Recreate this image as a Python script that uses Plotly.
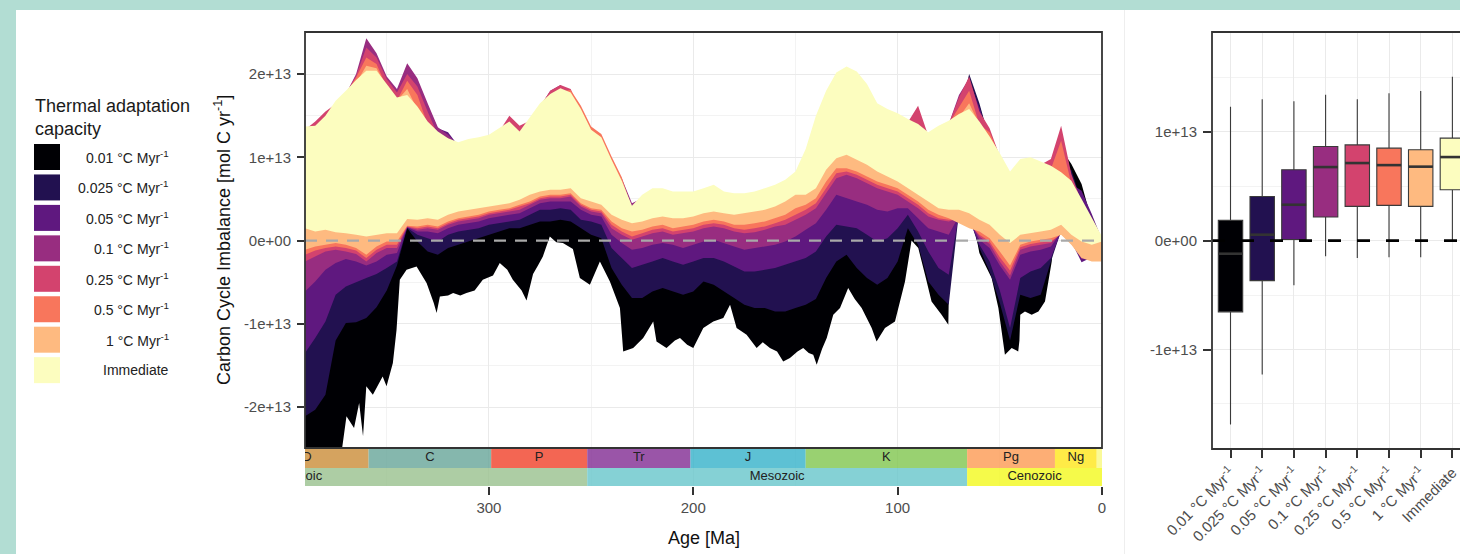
import plotly.graph_objects as go

W, H = 1460, 554
FONT = "Liberation Sans, Arial, Helvetica, sans-serif"


def fx(px):
    return px / W


def fy(py):
    return 1 - py / H


# ---------------- data (values in units of 1e13 mol C / yr) ----------------
ages = [390, 385, 380, 375, 370, 365, 360, 355, 350, 345,
        340, 335, 330, 325, 320, 315, 310, 305, 300, 295,
        290, 285, 280, 275, 270, 265, 260, 255, 250, 245,
        240, 235, 230, 225, 220, 215, 210, 205, 200, 195,
        190, 185, 180, 175, 170, 165, 160, 155, 150, 145,
        140, 135, 130, 125, 120, 115, 110, 105, 100, 95,
        90, 85, 80, 75, 70, 65, 60, 55, 50, 45,
        40, 35, 30, 25, 20, 15, 10, 5, 0]

imm_hi = [1.37, 1.38, 1.50, 1.68, 1.80, 1.93, 2.04, 2.04, 1.88, 1.72,
          1.75, 1.61, 1.43, 1.31, 1.23, 1.18, 1.22, 1.24, 1.27, 1.35,
          1.43, 1.31, 1.48, 1.65, 1.76, 1.83, 1.78, 1.58, 1.33, 1.24,
          0.97, 0.72, 0.42, 0.55, 0.63, 0.63, 0.59, 0.59, 0.59, 0.63,
          0.67, 0.59, 0.57, 0.57, 0.59, 0.63, 0.67, 0.73, 0.83, 1.10,
          1.50, 1.80, 2.02, 2.09, 2.03, 1.88, 1.65, 1.58, 1.53, 1.46,
          1.40, 1.30, 1.38, 1.44, 1.52, 1.58, 1.43, 1.25, 1.05, 0.83,
          0.98, 1.00, 0.95, 0.90, 0.82, 0.72, 0.50, 0.28, 0.05]
imm_lo = [0.15, 0.11, 0.13, 0.10, 0.09, 0.07, 0.05, 0.07, 0.09, 0.09,
          0.26, 0.25, 0.27, 0.25, 0.31, 0.35, 0.37, 0.39, 0.41, 0.43,
          0.45, 0.49, 0.55, 0.59, 0.61, 0.61, 0.63, 0.51, 0.47, 0.43,
          0.31, 0.25, 0.21, 0.23, 0.27, 0.29, 0.27, 0.27, 0.29, 0.33,
          0.35, 0.33, 0.31, 0.33, 0.35, 0.37, 0.41, 0.47, 0.55, 0.55,
          0.63, 0.85, 0.99, 1.03, 0.97, 0.91, 0.83, 0.77, 0.71, 0.63,
          0.55, 0.47, 0.39, 0.37, 0.37, 0.33, 0.25, 0.19, 0.07, -0.03,
          0.07, 0.09, 0.11, 0.13, 0.19, 0.07, -0.01, -0.05, -0.01]

c1_hi = [1.33, 1.34, 1.46, 1.64, 1.76, 1.89, 2.10, 2.07, 1.84, 1.68,
         1.82, 1.57, 1.39, 1.27, 1.19, 1.14, 1.18, 1.20, 1.23, 1.31,
         1.39, 1.27, 1.44, 1.61, 1.72, 1.79, 1.74, 1.54, 1.29, 1.20,
         0.93, 0.68, 0.38, 0.51, 0.59, 0.59, 0.55, 0.55, 0.55, 0.59,
         0.63, 0.55, 0.53, 0.53, 0.55, 0.59, 0.63, 0.69, 0.79, 1.06,
         1.46, 1.76, 1.98, 2.05, 1.99, 1.84, 1.61, 1.54, 1.49, 1.42,
         1.36, 1.26, 1.34, 1.40, 1.48, 1.65, 1.39, 1.21, 1.01, 0.79,
         0.94, 0.96, 0.91, 0.86, 0.78, 0.68, 0.46, 0.24, 0.01]
c1_lo = [-0.11, -0.07, -0.05, -0.03, -0.05, -0.09, -0.17, -0.07, -0.01, -0.01,
         0.18, 0.17, 0.19, 0.17, 0.23, 0.27, 0.29, 0.31, 0.35, 0.37,
         0.39, 0.43, 0.47, 0.53, 0.55, 0.55, 0.57, 0.45, 0.39, 0.37,
         0.23, 0.15, 0.11, 0.13, 0.17, 0.19, 0.15, 0.17, 0.19, 0.23,
         0.25, 0.23, 0.19, 0.19, 0.21, 0.23, 0.27, 0.31, 0.39, 0.43,
         0.51, 0.71, 0.87, 0.87, 0.83, 0.77, 0.71, 0.67, 0.63, 0.55,
         0.47, 0.37, 0.31, 0.27, 0.21, 0.15, 0.11, 0.03, -0.13, -0.30,
         -0.05, -0.01, 0.01, 0.03, 0.07, -0.05, -0.21, -0.25, -0.25]

c05_hi = [1.33, 1.34, 1.46, 1.64, 1.76, 1.96, 2.20, 2.12, 1.84, 1.68,
          1.92, 1.75, 1.39, 1.27, 1.19, 1.14, 1.18, 1.20, 1.23, 1.31,
          1.39, 1.27, 1.44, 1.61, 1.72, 1.79, 1.81, 1.62, 1.37, 1.28,
          1.01, 0.76, 0.38, 0.51, 0.59, 0.59, 0.55, 0.55, 0.55, 0.59,
          0.63, 0.55, 0.53, 0.53, 0.55, 0.59, 0.63, 0.69, 0.79, 1.06,
          1.46, 1.76, 1.98, 2.05, 1.99, 1.84, 1.61, 1.54, 1.49, 1.42,
          1.36, 1.26, 1.34, 1.40, 1.60, 1.80, 1.39, 1.30, 1.01, 0.79,
          0.94, 0.96, 0.91, 0.86, 1.20, 0.68, 0.46, 0.24, 0.01]
c05_lo = [-0.17, -0.12, -0.09, -0.07, -0.09, -0.12, -0.21, -0.11, -0.05, -0.05,
          0.17, 0.15, 0.17, 0.15, 0.21, 0.25, 0.27, 0.29, 0.33, 0.35,
          0.37, 0.41, 0.45, 0.51, 0.53, 0.53, 0.55, 0.43, 0.37, 0.35,
          0.19, 0.11, 0.05, 0.09, 0.13, 0.15, 0.11, 0.13, 0.15, 0.19,
          0.21, 0.19, 0.15, 0.13, 0.15, 0.17, 0.21, 0.25, 0.31, 0.37,
          0.45, 0.63, 0.81, 0.83, 0.79, 0.73, 0.67, 0.63, 0.59, 0.51,
          0.43, 0.33, 0.27, 0.25, 0.25, 0.20, 0.07, -0.01, -0.20, -0.36,
          -0.08, -0.04, -0.02, -0.01, 0.08, -0.04, -0.20, -0.22, -0.22]

c025_hi = [1.33, 1.43, 1.55, 1.64, 1.76, 1.98, 2.32, 2.20, 1.94, 1.78,
           2.00, 1.85, 1.55, 1.27, 1.19, 1.14, 1.18, 1.20, 1.23, 1.31,
           1.50, 1.38, 1.44, 1.61, 1.80, 1.87, 1.82, 1.54, 1.29, 1.20,
           0.93, 0.68, 0.38, 0.51, 0.59, 0.59, 0.55, 0.55, 0.55, 0.59,
           0.63, 0.55, 0.53, 0.53, 0.55, 0.59, 0.63, 0.69, 0.79, 1.06,
           1.46, 1.76, 1.98, 2.05, 1.99, 1.84, 1.61, 1.54, 1.49, 1.42,
           1.62, 1.26, 1.34, 1.40, 1.72, 1.97, 1.55, 1.35, 1.01, 0.79,
           0.94, 0.96, 0.91, 0.98, 1.38, 0.80, 0.46, 0.24, 0.01]
c025_lo = [-0.25, -0.19, -0.13, -0.11, -0.13, -0.16, -0.25, -0.15, -0.09, -0.09,
           0.165, 0.13, 0.15, 0.13, 0.19, 0.23, 0.25, 0.27, 0.31, 0.33,
           0.35, 0.37, 0.43, 0.49, 0.51, 0.51, 0.53, 0.41, 0.35, 0.33,
           0.15, 0.07, 0.01, 0.05, 0.09, 0.11, 0.07, 0.09, 0.11, 0.15,
           0.17, 0.15, 0.11, 0.09, 0.10, 0.13, 0.17, 0.19, 0.25, 0.31,
           0.39, 0.57, 0.75, 0.79, 0.75, 0.69, 0.63, 0.59, 0.55, 0.47,
           0.39, 0.29, 0.25, 0.23, 0.27, 0.22, 0.05, -0.04, -0.25, -0.42,
           -0.11, -0.07, -0.05, -0.03, 0.09, -0.03, -0.20, -0.21, -0.21]

c01_hi = [1.33, 1.34, 1.46, 1.64, 1.76, 2.00, 2.43, 2.25, 1.97, 1.82,
          2.13, 1.95, 1.65, 1.36, 1.27, 1.14, 1.18, 1.20, 1.23, 1.31,
          1.39, 1.27, 1.44, 1.61, 1.80, 1.87, 1.74, 1.54, 1.29, 1.20,
          0.93, 0.75, 0.45, 0.51, 0.59, 0.59, 0.55, 0.55, 0.55, 0.59,
          0.63, 0.55, 0.53, 0.53, 0.55, 0.59, 0.63, 0.69, 0.79, 1.06,
          1.46, 1.76, 1.98, 2.05, 1.99, 1.84, 1.61, 1.54, 1.49, 1.42,
          1.50, 1.26, 1.34, 1.40, 1.75, 1.95, 1.55, 1.21, 1.01, 0.79,
          0.94, 0.96, 0.91, 0.86, 1.30, 0.68, 0.46, 0.24, 0.01]
c01_lo = [-0.61, -0.49, -0.35, -0.27, -0.22, -0.25, -0.30, -0.25, -0.17, -0.15,
          0.16, 0.11, 0.11, 0.09, 0.15, 0.19, 0.21, 0.23, 0.27, 0.29,
          0.31, 0.33, 0.39, 0.45, 0.47, 0.47, 0.47, 0.37, 0.31, 0.29,
          0.07, -0.03, -0.11, -0.09, -0.05, -0.03, -0.05, -0.09, -0.05, -0.01,
          0.01, -0.03, -0.07, -0.11, -0.09, -0.07, -0.05, -0.01, 0.05, 0.13,
          0.21, 0.37, 0.55, 0.51, 0.47, 0.43, 0.37, 0.35, 0.39, 0.39,
          0.27, 0.15, 0.11, 0.07, 0.30, 0.24, 0.01, -0.09, -0.30, -0.47,
          -0.17, -0.13, -0.11, -0.07, 0.10, -0.02, -0.22, -0.20, -0.20]

c005_hi = [1.33, 1.34, 1.46, 1.64, 1.76, 1.89, 2.00, 2.00, 1.84, 1.68,
           2.05, 1.92, 1.62, 1.35, 1.30, 1.14, 1.18, 1.20, 1.23, 1.31,
           1.39, 1.27, 1.44, 1.61, 1.72, 1.79, 1.74, 1.54, 1.29, 1.20,
           0.93, 0.68, 0.38, 0.51, 0.59, 0.59, 0.55, 0.55, 0.55, 0.59,
           0.63, 0.55, 0.53, 0.53, 0.55, 0.59, 0.63, 0.69, 0.79, 1.06,
           1.46, 1.76, 1.98, 2.05, 1.99, 1.84, 1.61, 1.54, 1.49, 1.42,
           1.36, 1.26, 1.34, 1.40, 1.48, 1.92, 1.60, 1.21, 1.01, 0.79,
           0.94, 0.96, 0.91, 0.86, 0.78, 0.68, 0.60, 0.32, 0.01]
c005_lo = [-1.35, -1.17, -0.97, -0.65, -0.55, -0.50, -0.45, -0.40, -0.33, -0.25,
           0.155, 0.07, 0.03, -0.01, 0.07, 0.11, 0.13, 0.15, 0.19, 0.21,
           0.23, 0.25, 0.31, 0.37, 0.37, 0.39, 0.37, 0.25, 0.23, 0.19,
           -0.09, -0.21, -0.33, -0.29, -0.25, -0.21, -0.25, -0.29, -0.25, -0.21,
           -0.21, -0.25, -0.31, -0.37, -0.37, -0.35, -0.33, -0.29, -0.25, -0.21,
           -0.13, 0.05, 0.19, 0.17, 0.15, 0.07, -0.01, 0.03, 0.15, 0.31,
           0.11, -0.13, -0.33, -0.41, 0.32, 0.26, -0.05, -0.25, -0.60, -1.05,
           -0.45, -0.37, -0.33, -0.21, 0.11, -0.01, -0.26, -0.20, -0.20]

c0025_hi = [1.33, 1.34, 1.46, 1.64, 1.76, 1.89, 2.00, 2.00, 1.84, 1.68,
            1.71, 1.57, 1.39, 1.27, 1.19, 1.14, 1.18, 1.20, 1.23, 1.31,
            1.39, 1.27, 1.44, 1.61, 1.72, 1.79, 1.74, 1.54, 1.29, 1.20,
            0.93, 0.68, 0.38, 0.51, 0.59, 0.59, 0.55, 0.55, 0.55, 0.59,
            0.63, 0.55, 0.53, 0.53, 0.55, 0.59, 0.63, 0.69, 0.79, 1.06,
            1.46, 1.76, 1.98, 2.05, 1.99, 1.84, 1.61, 1.54, 1.49, 1.42,
            1.36, 1.26, 1.34, 1.40, 1.48, 2.00, 1.65, 1.21, 1.01, 0.79,
            0.94, 0.96, 0.91, 0.86, 0.78, 0.85, 0.46, 0.24, 0.01]
c0025_lo = [-2.11, -2.03, -1.85, -1.20, -0.99, -0.98, -0.93, -0.80, -0.60, -0.30,
            0.15, -0.01, -0.13, -0.17, -0.09, -0.05, -0.01, 0.03, 0.07, 0.11,
            0.15, 0.15, 0.19, 0.23, 0.23, 0.25, 0.23, 0.15, 0.07, 0.03,
            -0.33, -0.53, -0.69, -0.69, -0.61, -0.57, -0.61, -0.65, -0.61, -0.49,
            -0.53, -0.61, -0.69, -0.77, -0.81, -0.81, -0.85, -0.85, -0.81, -0.77,
            -0.70, -0.45, -0.25, -0.17, -0.33, -0.45, -0.53, -0.45, -0.25, 0.15,
            -0.05, -0.49, -0.65, -0.77, 0.34, 0.28, -0.09, -0.37, -0.75, -1.20,
            -0.65, -0.69, -0.65, -0.25, 0.12, 0.00, -0.15, -0.19, -0.19]

c001_hi = [1.33, 1.34, 1.46, 1.64, 1.76, 1.89, 2.00, 2.00, 1.84, 1.68,
           1.71, 1.57, 1.39, 1.27, 1.19, 1.14, 1.18, 1.20, 1.23, 1.31,
           1.39, 1.27, 1.44, 1.61, 1.72, 1.79, 1.74, 1.54, 1.29, 1.20,
           0.93, 0.68, 0.38, 0.51, 0.59, 0.59, 0.55, 0.55, 0.55, 0.59,
           0.63, 0.55, 0.53, 0.53, 0.55, 0.59, 0.63, 0.69, 0.79, 1.06,
           1.46, 1.76, 1.98, 2.05, 1.99, 1.84, 1.61, 1.54, 1.49, 1.42,
           1.36, 1.26, 1.34, 1.40, 1.48, 1.90, 1.62, 1.21, 1.01, 0.79,
           0.94, 0.96, 0.91, 0.86, 1.10, 0.92, 0.68, 0.24, 0.01]
# the lower edge of the 0.01 band is read at a finer, irregular age spacing
c001_lo_ages = [390, 373, 369.7, 366, 363.5, 361.6, 360, 356.8, 352, 350.1,
                347, 345.2, 343.6, 340.3, 335.4, 330.5, 327, 325.6, 324, 320,
                317.5, 314, 311, 307, 303, 298, 294.7, 291, 288.3, 284,
                281.6, 278.4, 276, 273.6, 270.2, 267, 263.8, 258.9, 255.5, 250.6,
                245.7, 240.8, 235.9, 234.3, 229.4, 224.5, 219.6, 218.0, 213.1, 209,
                206.5, 203, 200, 195.1, 190.2, 185.3, 182, 178.8, 173.9, 169,
                166, 162.5, 159, 156, 152.7, 149, 146.2, 143.5, 141.3, 139.6,
                137, 134.7, 131.5, 128.2, 124.2, 121, 117.6, 112.7, 110.3, 106.2,
                101.3, 96.4, 93.2, 89.9, 86.6, 83.4, 78.5, 75.2, 74.2, 62.8,
                62.2, 60, 57, 54, 50.7, 47.5, 44.2, 41, 40.4, 40,
                37.7, 34.4, 31.1, 27.9, 24.6, 23.4, 22.5, 15, 10, 5,
                0]
c001_lo = [-2.70, -2.70, -2.11, -2.25, -1.95, -2.35, -1.75, -1.85, -1.63, -1.75,
           -1.47, -1.07, -0.47, -0.35, -0.31, -0.51, -0.75, -0.87, -0.67, -0.66,
           -0.63, -0.66, -0.63, -0.60, -0.47, -0.42, -0.27, -0.35, -0.47, -0.60,
           -0.72, -0.40, -0.30, -0.19, 0.05, -0.02, -0.03, -0.10, -0.45, -0.53,
           -0.25, -0.49, -0.81, -1.33, -1.29, -1.17, -0.97, -1.21, -1.29, -1.20,
           -1.17, -1.25, -1.29, -1.05, -0.97, -0.93, -0.77, -1.05, -1.13, -1.29,
           -1.22, -1.29, -1.33, -1.45, -1.41, -1.33, -1.29, -1.35, -1.37, -1.49,
           -1.30, -1.17, -0.89, -0.81, -0.57, -0.70, -0.81, -1.05, -1.21, -1.05,
           -0.97, -0.49, 0.00, -0.09, -0.41, -0.73, -0.89, -1.01, 0.40, 0.40,
           0.13, -0.15, -0.30, -0.45, -0.81, -1.37, -1.29, -1.33, -1.20, -0.89,
           -0.85, -0.89, -0.85, -0.73, -0.25, 0.10, 0.15, 0.01, -0.10, -0.18,
           -0.18]

series_labels = ["0.01 °C Myr<sup>-1</sup>", "0.025 °C Myr<sup>-1</sup>",
                 "0.05 °C Myr<sup>-1</sup>", "0.1 °C Myr<sup>-1</sup>",
                 "0.25 °C Myr<sup>-1</sup>", "0.5 °C Myr<sup>-1</sup>",
                 "1 °C Myr<sup>-1</sup>", "Immediate"]
series_colors = ["#000004", "#221150", "#5F187F", "#982D80",
                 "#D3436E", "#F8765C", "#FEBA80", "#FCFDBF"]
series_hi = [c001_hi, c0025_hi, c005_hi, c01_hi, c025_hi, c05_hi, c1_hi, imm_hi]
series_lo = [c001_lo, c0025_lo, c005_lo, c01_lo, c025_lo, c05_lo, c1_lo, imm_lo]
series_lo_ages = [c001_lo_ages, ages, ages, ages, ages, ages, ages, ages]

# geological time scale
period_labels = ["D", "C", "P", "Tr", "J", "K", "Pg", "Ng", ""]
period_start = [419.2, 358.9, 298.9, 251.902, 201.4, 145.0, 66.0, 23.03, 2.58]
period_end = [358.9, 298.9, 251.902, 201.4, 145.0, 66.0, 23.03, 2.58, 0.0]
period_colors = ["#CB8C37", "#67A599", "#F04028", "#812B92", "#34B2C9",
                 "#7FC64E", "#FD9A52", "#FFE619", "#F9F97F"]
era_labels = ["Paleozoic", "Mesozoic", "Cenozoic"]
era_start = [538.8, 251.902, 66.0]
era_end = [251.902, 66.0, 0.0]
era_colors = ["#99C08D", "#67C5CA", "#F2F91D"]

# box plot summary
box_lower = [-1.69, -1.23, -0.41, -0.144, -0.159, -0.153, -0.153, 0.003]
box_q1 = [-0.654, -0.367, 0.01, 0.217, 0.315, 0.324, 0.315, 0.468]
box_median = [-0.12, 0.055, 0.33, 0.676, 0.713, 0.694, 0.68, 0.768]
box_q3 = [0.186, 0.406, 0.651, 0.865, 0.88, 0.85, 0.835, 0.942]
box_upper = [1.23, 1.30, 1.28, 1.34, 1.30, 1.355, 1.376, 1.507]

main_ticks = [-2, -1, 0, 1, 2]
main_ticktext = ["-2e+13", "-1e+13", "0e+00", "1e+13", "2e+13"]
box_ticks = [-1, 0, 1]
box_ticktext = ["-1e+13", "0e+00", "1e+13"]
age_ticks = [300, 200, 100, 0]


def rgba(h, a):
    h = h.lstrip("#")
    return "rgba(%d,%d,%d,%.2f)" % (int(h[0:2], 16), int(h[2:4], 16), int(h[4:6], 16), a)


fig = go.Figure()

# ribbons (drawn from slowest adaptation to immediate)
for hi, lo, lo_ages, col in zip(series_hi, series_lo, series_lo_ages, series_colors):
    fig.add_trace(go.Scatter(
        x=ages + lo_ages[::-1], y=hi + lo[::-1], fill="toself", fillcolor=col,
        line=dict(width=0, color=col), mode="lines", hoverinfo="skip",
        showlegend=False, xaxis="x", yaxis="y"))

# time scale bars
PER_Y = (18, 38)
ERA_Y = (0, 18)
for s, e, c in zip(period_start, period_end, period_colors):
    fig.add_trace(go.Scatter(
        x=[s, e, e, s, s], y=[PER_Y[0], PER_Y[0], PER_Y[1], PER_Y[1], PER_Y[0]],
        fill="toself", fillcolor=rgba(c, 0.8), line=dict(width=0), mode="lines",
        hoverinfo="skip", showlegend=False, xaxis="x", yaxis="y2"))
for s, e, c in zip(era_start, era_end, era_colors):
    fig.add_trace(go.Scatter(
        x=[s, e, e, s, s], y=[ERA_Y[0], ERA_Y[0], ERA_Y[1], ERA_Y[1], ERA_Y[0]],
        fill="toself", fillcolor=rgba(c, 0.8), line=dict(width=0), mode="lines",
        hoverinfo="skip", showlegend=False, xaxis="x", yaxis="y2"))
per_mid = [(s + e) / 2 for s, e, lab in zip(period_start, period_end, period_labels) if lab]
per_txt = [lab for lab in period_labels if lab]
fig.add_trace(go.Scatter(
    x=per_mid, y=[sum(PER_Y) / 2] * len(per_txt), text=per_txt, mode="text",
    textfont=dict(size=13, color="#222222", family=FONT), cliponaxis=True,
    hoverinfo="skip", showlegend=False, xaxis="x", yaxis="y2"))
fig.add_trace(go.Scatter(
    x=[(s + e) / 2 for s, e in zip(era_start, era_end)],
    y=[sum(ERA_Y) / 2] * len(era_labels), text=era_labels, mode="text",
    textfont=dict(size=13, color="#222222", family=FONT), cliponaxis=True,
    hoverinfo="skip", showlegend=False, xaxis="x", yaxis="y2"))

# box plot
BOXW = 0.77
for i in range(len(box_q1)):
    fig.add_trace(go.Box(
        x=[i], q1=[box_q1[i]], median=[box_median[i]], q3=[box_q3[i]],
        lowerfence=[box_lower[i]], upperfence=[box_upper[i]],
        fillcolor=series_colors[i], line=dict(color="#3a3a3a", width=1.1),
        width=BOXW, whiskerwidth=0, boxpoints=False, hoverinfo="skip",
        showlegend=False, xaxis="x3", yaxis="y3"))
for i, m in enumerate(box_median):
    fig.add_trace(go.Scatter(
        x=[i - BOXW / 2, i + BOXW / 2], y=[m, m], mode="lines",
        line=dict(color="#333333", width=2.6), hoverinfo="skip",
        showlegend=False, xaxis="x3", yaxis="y3"))

TICKFONT = dict(size=15, color="#4D4D4D", family=FONT)
GRID = "#EAEAEA"
MINOR = "#F3F3F3"

fig.update_layout(
    width=W, height=H, autosize=False,
    margin=dict(l=0, r=0, t=0, b=0, pad=0, autoexpand=False),
    paper_bgcolor="#B2DDD3", plot_bgcolor="white",
    font=dict(family=FONT), showlegend=False, boxmode="overlay",
    xaxis=dict(domain=[fx(305), fx(1102)], range=[390, 0], anchor="y2",
               automargin=False,
               tickmode="array", tickvals=age_ticks, ticks="outside", ticklen=8,
               tickwidth=2, tickcolor="#333333", tickfont=TICKFONT,
               showgrid=True, gridcolor=GRID, gridwidth=1.4, zeroline=False,
               showline=False,
               minor=dict(tickvals=[350, 250, 150, 50], showgrid=True,
                          gridcolor=MINOR, gridwidth=1.0, ticks="")),
    yaxis=dict(domain=[fy(448), fy(32)], range=[-2.49, 2.505], anchor="x",
               automargin=False,
               tickmode="array", tickvals=main_ticks, ticktext=main_ticktext,
               ticks="outside", ticklen=7, tickwidth=2, tickcolor="#333333",
               tickfont=TICKFONT, ticklabelstandoff=3,
               showgrid=True, gridcolor=GRID, gridwidth=1.4, zeroline=False,
               minor=dict(tickvals=[-1.5, -0.5, 0.5, 1.5], showgrid=True,
                          gridcolor=MINOR, gridwidth=1.0, ticks="")),
    yaxis2=dict(domain=[fy(486), fy(448)], range=[0, 38], anchor="x",
                automargin=False,
                showgrid=False, zeroline=False, showticklabels=False, ticks=""),
    xaxis3=dict(domain=[fx(1212), 1.0], range=[-0.584, 7.24], anchor="y3",
                automargin=False,
                tickmode="array", tickvals=list(range(8)), ticktext=series_labels,
                tickangle=-45, ticks="outside", ticklen=8, tickwidth=2,
                tickcolor="#333333", tickfont=TICKFONT,
                showgrid=True, gridcolor=GRID, gridwidth=1.4, zeroline=False),
    yaxis3=dict(domain=[fy(449), fy(32)], range=[-1.914, 1.917], anchor="x3",
                automargin=False,
                tickmode="array", tickvals=box_ticks, ticktext=box_ticktext,
                ticks="outside", ticklen=8, tickwidth=2, tickcolor="#333333",
                tickfont=TICKFONT, ticklabelstandoff=3,
                showgrid=True, gridcolor=GRID, gridwidth=1.4, zeroline=False,
                minor=dict(tickvals=[-1.5, -0.5, 0.5, 1.5], showgrid=True,
                           gridcolor=MINOR, gridwidth=1.0, ticks="")),
)

shapes = [
    dict(type="rect", xref="paper", yref="paper", x0=fx(16), x1=1.02,
         y0=-0.02, y1=fy(10), fillcolor="white", line=dict(width=0), layer="below"),
    dict(type="line", xref="paper", yref="paper", x0=fx(1124.5), x1=fx(1124.5),
         y0=-0.02, y1=fy(10), line=dict(color="#EEEEEE", width=1), layer="below"),
    dict(type="line", xref="x", yref="y", x0=390, x1=0, y0=0, y1=0,
         line=dict(color="#A9A9A9", width=2.4, dash="12px,9px"), layer="above"),
    dict(type="line", xref="x3 domain", yref="y3", x0=0, x1=1, y0=0, y1=0,
         line=dict(color="#000000", width=2.6, dash="13px,16px"), layer="above"),
    dict(type="rect", xref="paper", yref="paper", x0=fx(305), x1=fx(1102),
         y0=fy(448), y1=fy(32), line=dict(color="#333333", width=1.8), layer="above"),
    dict(type="rect", xref="paper", yref="paper", x0=fx(1212), x1=1.05,
         y0=fy(449), y1=fy(32), line=dict(color="#333333", width=1.8), layer="above"),
]

annotations = [
    dict(text="Thermal adaptation<br>capacity", xref="paper", yref="paper",
         x=fx(33), y=fy(94), xanchor="left", yanchor="top", align="left",
         showarrow=False, font=dict(size=18, color="#1a1a1a", family=FONT)),
    dict(text="Age [Ma]", xref="paper", yref="paper", x=fx(703.5), y=fy(538),
         xanchor="center", yanchor="middle", showarrow=False,
         font=dict(size=18, color="#111111", family=FONT)),
    dict(text="Carbon Cycle Imbalance [mol C yr<sup>-1</sup>]", xref="paper",
         yref="paper", x=fx(223), y=fy(240), textangle=-90, xanchor="center",
         yanchor="middle", showarrow=False,
         font=dict(size=18, color="#111111", family=FONT)),
]

KEY_TOP, KEY_STEP, KEY_SIZE = 144, 30.45, 26
for i, (lab, col) in enumerate(zip(series_labels, series_colors)):
    top = KEY_TOP + i * KEY_STEP
    shapes.append(dict(type="rect", xref="paper", yref="paper", x0=fx(34),
                       x1=fx(34 + KEY_SIZE), y0=fy(top + KEY_SIZE), y1=fy(top),
                       fillcolor=col, line=dict(width=0)))
    annotations.append(dict(text=lab, xref="paper", yref="paper", x=fx(171),
                            y=fy(top + KEY_SIZE / 2), xanchor="right",
                            yanchor="middle", showarrow=False,
                            font=dict(size=14, color="#222222", family=FONT)))

fig.update_layout(shapes=shapes, annotations=annotations)

fig.write_html("out.html", config={"displayModeBar": False},
               post_script="document.body.style.margin='0';document.body.style.overflow='hidden';")
